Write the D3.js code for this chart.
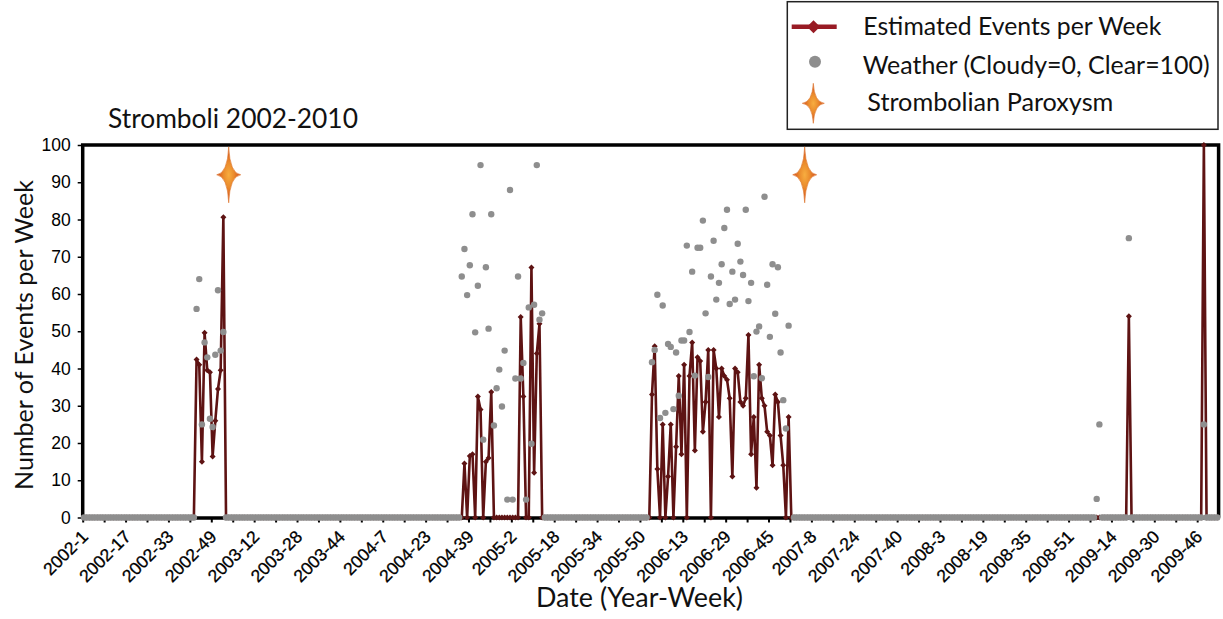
<!DOCTYPE html>
<html>
<head>
<meta charset="utf-8">
<script src="https://cdn.jsdelivr.net/npm/d3@7"></script>
<style>
body { margin: 0; background: #fff; }
svg { display: block; }
</style>
</head>
<body>
<svg id="chart" width="1223" height="619"></svg>
<script>
// axis: 53 "weeks" per year, 2002-1 .. 2009-53
const firstYear = 2002;
const weeksPerYear = 53;
const totalWeeks = 424;
const tickEvery = 8;
const labelEvery = 16;
const yTicks = [0, 10, 20, 30, 40, 50, 60, 70, 80, 90, 100];

// observed runs: start week, events per week, weather (null = no dot)
const start2002 = "2002-43";
const events2002 = [42.4, 41, 15, 49.6, 39.5, 39, 16.4, 26, 34.5, 39.5, 80.6];
const weather2002 = [56, 64, 25, 47, 43, 26.5, 24.3, 43.7, 61, 44.8, 49.8];

const start2004 = "2004-36";
const events2004 = [0, 14.5, 0, 16.5, 17, 0, 32.5, 29, 0, 15, 16, 33.7,
	0, 0, 0, 0, 0, 0, 0, 0, 0, 0,
	53.8, 32.5, 0, 0, 67.1, 12, 44, 52, 0];
const weather2004 = [64.7, 72.1, 59.7, 67.7, 81.4, 49.7, 62.2, 94.6, 20.9, 67.2,
	50.7, 81.4, 24.7, 34.7, 39.7, 29.8, 44.8, 4.8, 87.9, 4.8,
	37.3, 64.7, 37.3, 41.5, 4.8, 56.4, 19.8, 57.1, 94.6, 53.1, 54.8];

const start2006 = "2005-53";
const events2006 = [0, 33, 46, 13, 0, 25, 0, 11, 25, 0, 19,
	38, 17, 41, 0, 38, 47, 18, 43, 42, 23,
	31, 45, 0, 45, 40, 27, 40, 38, 37, 32,
	11, 40, 39, 31, 30, 32, 49, 17, 27, 8,
	41, 32, 30, 23, 22, 14, 33, 31, 22, 14,
	0, 27, 0];
const weather2006 = [null, 41.7, 45, 59.8, 26.7, 56.9, 28.1, 46.6, 45.8, 29.1, 44.3,
	32.7, 47.5, 47.5, 73, 49.8, 66, 38.1, 72.4, 72.4, 79.7,
	54.8, 37.7, 64.7, 74.3, 58.5, 63, 68, 77.7, 82.6, 57.3,
	66, 58.5, 73.5, 68.7, 65.1, 82.6, 58.1, 63, 37.9, 49.9,
	51.3, 37.4, 86.1, 62.5, 48.5, 68, 54.7, 67.2, 44.3, 31.5,
	23.9, 51.5, null];

const start2009a = "2009-8";
const events2009a = [0, 0];
const weather2009a = [5, 25];

const start2009b = "2009-20";
const events2009b = [54];
const weather2009b = [75];

const start2009c = "2009-48";
const events2009c = [100];
const weather2009c = [25];

const runs = [
	[start2002, events2002, weather2002],
	[start2004, events2004, weather2004],
	[start2006, events2006, weather2006],
	[start2009a, events2009a, weather2009a],
	[start2009b, events2009b, weather2009b],
	[start2009c, events2009c, weather2009c]
];

const paroxysmWeeks = ["2003-2", "2007-5"];
const paroxysmLevel = 92;

const legendLabels = ["Estimated Events per Week", "Weather (Cloudy=0, Clear=100)", "Strombolian Paroxysm"];
const titleText = "Stromboli 2002-2010";
const xTitle = "Date (Year-Week)";
const yTitle = "Number of Events per Week";

let weekIndex = (label) => {
	let [yr, wk] = label.split("-").map((v) => parseInt(v));
	return (yr - firstYear) * weeksPerYear + wk - 1;
};
let weekLabel = (i) => (firstYear + Math.floor(i / weeksPerYear)) + "-" + (i % weeksPerYear + 1);

// weeks outside the runs show zero events and weather at 0
let weeks = d3.range(totalWeeks).map((i) => ({i: i, events: 0, weather: 0}));
for (let [st, ev, we] of runs) {
	let s = weekIndex(st);
	ev.forEach((v, k) => weeks[s + k].events = v);
	we.forEach((v, k) => weeks[s + k].weather = v);
}

const lineColor = "#5e1313";
const legendRed = "#981b24";
const dotColor = "#8e8e8e";
const titleFont = "Lato, 'Open Sans', sans-serif";
const tickFont = "'Liberation Sans', Arial, sans-serif";

let svg = d3.select("#chart");
let plotLeft = 82.7, plotRight = 1218.6, plotTop = 145, plotBottom = 517.5;

let x = d3.scaleLinear().domain([0, totalWeeks]).range([plotLeft, plotRight]);
let y = d3.scaleLinear().domain([0, 100]).range([plotBottom, plotTop]);
let px = (d) => x(d.i + 0.5);

let defs = svg.append("defs");
let grad = defs.append("radialGradient").attr("id", "starGrad");
grad.append("stop").attr("offset", "0%").attr("stop-color", "#f7ad40");
grad.append("stop").attr("offset", "45%").attr("stop-color", "#ea8a2c");
grad.append("stop").attr("offset", "100%").attr("stop-color", "#d0461c");

let starPath = function(w, h) {
	let c = 0.1 * w;
	return "M0," + (-h) + "Q" + c + "," + (-c) + " " + w + ",0" +
		"Q" + c + "," + c + " 0," + h +
		"Q" + (-c) + "," + c + " " + (-w) + ",0" +
		"Q" + (-c) + "," + (-c) + " 0," + (-h) + "Z";
};
let diamond = (r) => "M0," + (-r) + "L" + r + ",0L0," + r + "L" + (-r) + ",0Z";

// fit a text to a measured width
let fitText = function(sel, width) {
	let n = sel.node();
	let size = parseFloat(sel.attr("font-size"));
	let len = n.getComputedTextLength();
	sel.attr("font-size", (size * width / len).toFixed(2));
};

// x axis (ticks only, labels drawn below)
let xAxis = d3.axisBottom(x)
	.tickValues(d3.range(0, totalWeeks, tickEvery))
	.tickFormat("")
	.tickSize(5)
	.tickSizeOuter(0);
let gx = svg.append("g")
	.attr("transform", "translate(0," + plotBottom + ")")
	.call(xAxis);
gx.select(".domain").attr("stroke", "#000").attr("stroke-width", 3.5);
gx.selectAll(".tick line").attr("stroke", "#000").attr("stroke-width", 2);

svg.append("g").selectAll("text")
	.data(d3.range(0, totalWeeks, labelEvery))
	.join("text")
	.attr("transform", (i) => "translate(" + (x(i) + 2) + "," + (plotBottom + 16) + ") rotate(-45)")
	.attr("text-anchor", "end")
	.attr("dy", "0.35em")
	.attr("font-family", tickFont)
	.attr("font-size", 17.5)
	.attr("fill", "#000")
	.attr("stroke", "#000")
	.attr("stroke-width", 0.3)
	.text(weekLabel);

// y axis
let yAxis = d3.axisLeft(y).tickValues(yTicks).tickSize(5).tickPadding(7).tickSizeOuter(0);
let gy = svg.append("g")
	.attr("transform", "translate(" + plotLeft + ",0)")
	.call(yAxis);
gy.select(".domain").remove();
gy.selectAll(".tick line").attr("stroke", "#000").attr("stroke-width", 1.5);
gy.selectAll(".tick text")
	.attr("font-family", tickFont)
	.attr("font-size", 17.5)
	.attr("fill", "#000");

// frame
svg.append("path")
	.attr("d", "M" + plotLeft + "," + plotBottom + "V" + plotTop + "H" + plotRight + "V" + plotBottom)
	.attr("fill", "none")
	.attr("stroke", "#000")
	.attr("stroke-width", 3.5);

// events line
svg.append("path")
	.datum(weeks)
	.attr("fill", "none")
	.attr("stroke", lineColor)
	.attr("stroke-width", 2.6)
	.attr("stroke-linejoin", "round")
	.attr("d", d3.line().x(px).y((d) => y(d.events)));

svg.append("g").selectAll("path")
	.data(weeks)
	.join("path")
	.attr("d", diamond(3))
	.attr("transform", (d) => "translate(" + px(d) + "," + y(d.events) + ")")
	.attr("fill", lineColor);

// weather dots
svg.append("g").selectAll("circle")
	.data(weeks.filter((d) => d.weather != null))
	.join("circle")
	.attr("cx", px)
	.attr("cy", (d) => y(d.weather))
	.attr("r", 3.2)
	.attr("fill", dotColor);

// paroxysms
svg.append("g").selectAll("path")
	.data(paroxysmWeeks)
	.join("path")
	.attr("d", starPath(12, 28))
	.attr("transform", (w) => "translate(" + x(weekIndex(w) + 0.5) + "," + y(paroxysmLevel) + ")")
	.attr("fill", "url(#starGrad)")
	.attr("stroke", "#dc6e22")
	.attr("stroke-width", 0.6);

// titles
let t = svg.append("text")
	.attr("x", 108).attr("y", 128)
	.attr("font-family", titleFont).attr("font-size", 22).attr("fill", "#111")
	.text(titleText);
fitText(t, 250);

let xt = svg.append("text")
	.attr("x", 639.5).attr("y", 607)
	.attr("text-anchor", "middle")
	.attr("font-family", titleFont).attr("font-size", 22).attr("fill", "#111")
	.text(xTitle);
fitText(xt, 207);

let yt = svg.append("text")
	.attr("transform", "translate(33,335) rotate(-90)")
	.attr("text-anchor", "middle")
	.attr("font-family", titleFont).attr("font-size", 22).attr("fill", "#111")
	.text(yTitle);
fitText(yt, 310);

// legend
let lg = svg.append("g");
lg.append("rect")
	.attr("x", 787.3).attr("y", 1.7)
	.attr("width", 430.7).attr("height", 127.6)
	.attr("fill", "#fff").attr("stroke", "#222").attr("stroke-width", 1.5);
lg.append("line")
	.attr("x1", 791.7).attr("x2", 836.7).attr("y1", 26.7).attr("y2", 26.7)
	.attr("stroke", legendRed).attr("stroke-width", 4.5);
lg.append("path")
	.attr("d", diamond(6.5))
	.attr("transform", "translate(813.5,26.7)")
	.attr("fill", legendRed);
lg.append("circle")
	.attr("cx", 815).attr("cy", 61.7).attr("r", 6)
	.attr("fill", dotColor);
lg.append("path")
	.attr("d", starPath(11, 20))
	.attr("transform", "translate(813.3,103.3)")
	.attr("fill", "url(#starGrad)")
	.attr("stroke", "#dc6e22")
	.attr("stroke-width", 0.6);

let legendX = [863.3, 862.7, 867.3];
let legendY = [35, 74, 111];
let legendW = [298, 347, 246];
legendLabels.forEach((s, k) => {
	let lt = lg.append("text")
		.attr("x", legendX[k]).attr("y", legendY[k])
		.attr("font-family", titleFont).attr("font-size", 20).attr("fill", "#111")
		.text(s);
	fitText(lt, legendW[k]);
});
</script>
</body>
</html>
